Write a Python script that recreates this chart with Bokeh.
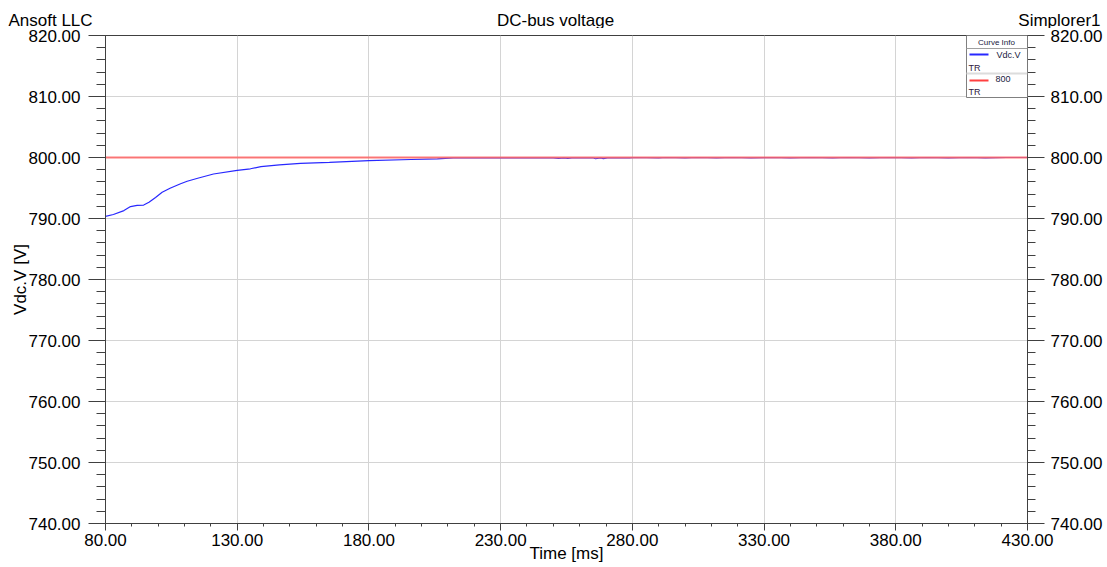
from bokeh.plotting import figure
from bokeh.layouts import column
from bokeh.models import (Range1d, LinearAxis, FixedTicker, PrintfTickFormatter,
                          Label, BoxAnnotation, ColumnDataSource)
from bokeh.core.properties import value
from bokeh.embed import file_html
from bokeh.resources import INLINE

# ---- data ----
time_ms = [80, 83, 87, 89.5, 92, 94.5, 96.5, 99, 101.5, 104.5, 108.5, 111, 115, 121,
           130, 135, 139, 146, 154, 165, 180, 196, 206, 212,
           230, 250, 252, 254, 255.5, 257, 265, 266, 268, 269, 270.5, 279,
           281, 290, 293, 300, 305, 312, 318, 325, 333, 340, 348, 356, 362,
           370, 378, 386, 392, 400, 408, 414, 422, 430]
vdc_v = [790.35, 790.65, 791.3, 791.95, 792.15, 792.2, 792.65, 793.45, 794.3, 794.95,
         795.7, 796.1, 796.6, 797.3, 797.9, 798.15, 798.5, 798.8, 799.05, 799.2,
         799.5, 799.67, 799.78, 799.95,
         799.95, 799.95, 799.85, 799.95, 799.85, 799.95, 799.95, 799.8, 799.95, 799.82,
         799.95, 799.95,
         800.0, 799.95, 800.0, 799.95, 800.0, 799.95, 800.0, 799.95, 800.0, 799.95,
         800.0, 799.95, 800.0, 799.95, 800.0, 799.95, 800.0, 799.95, 800.0, 799.95,
         800.0, 800.0]
ref_time_ms = [80, 430]
ref_v = [800, 800]

x_major = [80, 130, 180, 230, 280, 330, 380, 430]
x_minor = list(range(80, 431, 10))
y_major = [740, 750, 760, 770, 780, 790, 800, 810, 820]
y_minor = list(range(740, 821, 2))

header_texts = ["Ansoft LLC", "DC-bus voltage", "Simplorer1"]

FONT = "Liberation Sans"
AX = "#404040"
W = 1107
HEAD_H = 28

# ---- header strip with the three top texts ----
head = figure(width=W, height=HEAD_H, output_backend="svg", toolbar_location=None,
              x_range=Range1d(0, W), y_range=Range1d(0, HEAD_H),
              x_axis_type=None, y_axis_type=None, min_border=0)
head.frame_align = False
head.grid.visible = False
head.outline_line_color = None
head.background_fill_color = "white"
head.border_fill_color = "white"
hsrc = ColumnDataSource(dict(x=[8, 555, 1100], y=[8.5, 8.5, 8.5], t=header_texts,
                             a=["left", "center", "right"]))
head.text(x="x", y="y", text="t", text_align="a", source=hsrc,
          text_font=value(FONT), text_font_size="17px", text_baseline="alphabetic",
          text_color="black")

# ---- main chart ----
p = figure(width=W, height=567 - HEAD_H, output_backend="svg", toolbar_location=None,
           x_range=Range1d(80, 430), y_range=Range1d(740, 820),
           min_border_left=105, min_border_right=80, min_border_top=7, min_border_bottom=44)
p.frame_align = False
p.background_fill_color = "white"
p.border_fill_color = "white"
p.outline_line_color = AX
p.outline_line_width = 1

xt = FixedTicker(ticks=x_major, minor_ticks=x_minor)
yt = FixedTicker(ticks=y_major, minor_ticks=y_minor)
fmt = PrintfTickFormatter(format="%.2f")

p.xaxis.ticker = xt
p.yaxis.ticker = yt
p.xaxis.formatter = fmt
p.yaxis.formatter = fmt
p.xgrid.ticker = xt
p.ygrid.ticker = yt
p.xgrid.grid_line_color = "#d4d4d4"
p.ygrid.grid_line_color = "#d4d4d4"

for ax in p.xaxis:
    ax.axis_line_color = AX
    ax.major_tick_line_color = AX
    ax.minor_tick_line_color = AX
    ax.major_tick_out = 7
    ax.major_tick_in = 0
    ax.minor_tick_out = 3
    ax.minor_tick_in = 0
    ax.major_label_standoff = 3
    ax.major_label_text_font = FONT
    ax.major_label_text_font_size = "17px"
    ax.major_label_text_color = "black"
    ax.axis_label = "Time [ms]"
    ax.axis_label_text_font = FONT
    ax.axis_label_text_font_size = "17px"
    ax.axis_label_text_font_style = "normal"
    ax.axis_label_text_color = "black"
    ax.axis_label_standoff = -5

for ax in p.yaxis:
    ax.axis_line_color = AX
    ax.major_tick_line_color = AX
    ax.minor_tick_line_color = AX
    ax.major_tick_out = 17
    ax.major_tick_in = 0
    ax.minor_tick_out = 9
    ax.minor_tick_in = 0
    ax.major_label_standoff = 8
    ax.major_label_text_font = FONT
    ax.major_label_text_font_size = "17px"
    ax.major_label_text_color = "black"
    ax.axis_label = "Vdc.V [V]"
    ax.axis_label_text_font = FONT
    ax.axis_label_text_font_size = "17px"
    ax.axis_label_text_font_style = "normal"
    ax.axis_label_text_color = "black"
    ax.axis_label_standoff = -4

right = LinearAxis(ticker=yt, formatter=fmt, axis_line_color=AX,
                   major_tick_line_color=AX, minor_tick_line_color=AX,
                   major_tick_out=17, major_tick_in=0, minor_tick_out=8, minor_tick_in=0,
                   major_label_standoff=6, major_label_text_font=FONT,
                   major_label_text_font_size="17px", major_label_text_color="black")
p.add_layout(right, "right")

# ---- curves ----
p.line(time_ms, vdc_v, line_color="#2828ff", line_width=1.2)
p.line(ref_time_ms, ref_v, line_color="#ff6464", line_width=2, line_alpha=0.85)

# ---- legend box ("Curve Info"), screen units relative to the plot frame ----
def box(l, r, t, b, fill, line=None):
    p.add_layout(BoxAnnotation(left=l, right=r, top=t, bottom=b,
                               left_units="screen", right_units="screen",
                               top_units="screen", bottom_units="screen",
                               fill_color=fill, fill_alpha=1.0,
                               line_color=line if line else fill,
                               line_alpha=1.0 if line else 0.0,
                               line_width=1, level="annotation"))

def lab(text, x, y, size, align="left", color="#202040"):
    p.add_layout(Label(x=x, y=y, x_units="screen", y_units="screen", text=text,
                       text_font=FONT, text_font_size=size, text_align=align,
                       text_baseline="middle", text_color=color, level="overlay"))

box(861, 922, 488, 426, "white", "#808080")
box(861, 922, 475.5, 474.5, "#a0a0a0")
box(861, 922, 451, 449, "#dcdcdc")
box(864, 883, 470, 468, "#2828ff")
box(864, 883, 444, 442, "#ff4040")
lab("Curve Info", 891, 481, "8px", align="center")
lab("Vdc.V", 915, 469, "9px", align="right")
lab("TR", 863, 456, "9px", color="#302040")
lab("800", 890, 445, "9px")
lab("TR", 863, 432, "9px", color="#302040")

layout = column(head, p, spacing=0)
open("out.html", "w").write(file_html(layout, INLINE))
